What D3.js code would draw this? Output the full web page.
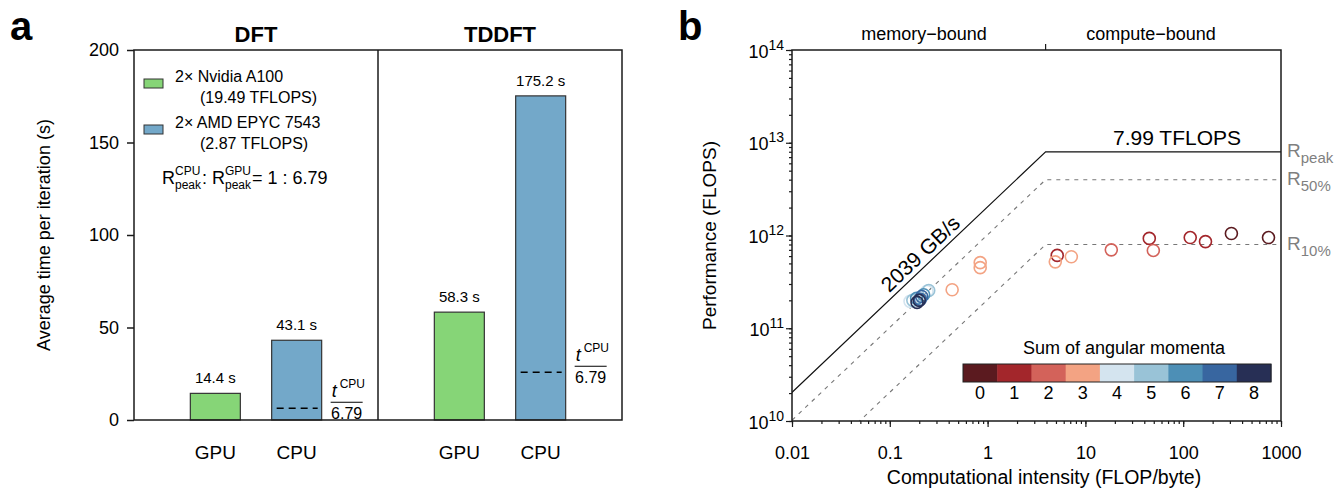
<!DOCTYPE html>
<html>
<head>
<meta charset="utf-8">
<script src="https://cdn.jsdelivr.net/npm/d3@7"></script>
<style>
  body { margin: 0; background: #fff; }
  svg text { font-family: "Liberation Sans", Arial, Helvetica, sans-serif; }
</style>
</head>
<body>
<div id="content"></div>
<script>
// ---- panel a data
const methods = ['DFT', 'TDDFT']
const devices = ['GPU', 'CPU']
const gpuTimes = [14.4, 58.3]
const cpuTimes = [43.1, 175.2]
const peakRatio = 6.79
const timeTicks = [0, 50, 100, 150, 200]
const legendItems = [
    { name: '2× Nvidia A100', spec: '(19.49 TFLOPS)', device: 'GPU' },
    { name: '2× AMD EPYC 7543', spec: '(2.87 TFLOPS)', device: 'CPU' }
]

// ---- panel b data
const intensity = [311, 745, 45, 118, 169, 5.15, 18.4, 49.5, 0.434, 0.84, 0.84, 4.92, 7.18,
    0.161, 0.24, 0.172, 0.25, 0.188, 0.222, 0.205, 0.212, 0.19, 0.2]
const performance = [1.05e12, 9.5e11, 9.3e11, 9.5e11, 8.6e11, 6.1e11, 7.0e11, 6.9e11, 2.6e11, 4.5e11, 5.1e11, 5.2e11, 5.9e11,
    1.95e11, 2.5e11, 2.0e11, 2.55e11, 2.1e11, 2.3e11, 2.05e11, 2.2e11, 1.9e11, 2.0e11]
const momentumSum = [0, 0, 1, 1, 1, 1, 2, 2, 3, 3, 3, 3, 3,
    4, 4, 5, 5, 6, 6, 7, 7, 8, 8]
const momentumLevels = [0, 1, 2, 3, 4, 5, 6, 7, 8]
const momentumColors = ['#5b1a1f', '#a3262b', '#d3625a', '#f3a383', '#d4e4ef', '#99c3d7', '#4d8fb6', '#3866a0', '#272f55']
const peakFlops = 7.99e12
const bandwidth = 2039e9
const roofFractions = [1, 0.5, 0.1]
const roofNames = ['peak', '50%', '10%']
const intensityTicks = [0.01, 0.1, 1, 10, 100, 1000]
const perfTicks = [1e10, 1e11, 1e12, 1e13, 1e14]

const svg = d3.select('#content')
    .append('svg')
    .attr('width', 1338)
    .attr('height', 490)

const ink = '#1a1a1a'

// ================= panel a =================
const aLeft = 134, aRight = 622, aTop = 50, aBottom = 420
const barWidth = 50

const yTime = d3.scaleLinear().domain([0, 200]).range([aBottom, aTop])
const xMethod = d3.scaleBand().domain(methods).range([aLeft, aRight])
const xDevice = d3.scalePoint().domain(devices).range([0, xMethod.bandwidth()]).padding(1)
const fillOf = { GPU: '#86d577', CPU: '#73a8c9' }

svg.append('text').text('a')
    .attr('x', 10).attr('y', 40)
    .attr('font-size', 40).attr('font-weight', 'bold')

const axisA = svg.append('g')
    .attr('transform', `translate(${aLeft},0)`)
    .call(d3.axisLeft(yTime).tickValues(timeTicks).tickSize(7).tickPadding(8).tickSizeOuter(0))
axisA.select('.domain').remove()
axisA.selectAll('line').attr('stroke', ink).attr('stroke-width', 1.5)
axisA.selectAll('text').attr('font-size', 18).attr('fill', '#000')

svg.append('text')
    .text('Average time per iteration (s)')
    .attr('transform', `translate(50,${(aTop + aBottom) / 2}) rotate(-90)`)
    .attr('text-anchor', 'middle')
    .attr('font-size', 18)

const bars = methods.flatMap((m, i) => [
    { method: m, device: 'GPU', value: gpuTimes[i] },
    { method: m, device: 'CPU', value: cpuTimes[i] }
])
const barX = d => xMethod(d.method) + xDevice(d.device) - barWidth / 2

svg.append('g').selectAll('rect')
    .data(bars)
    .join('rect')
    .attr('x', barX)
    .attr('y', d => yTime(d.value))
    .attr('width', barWidth)
    .attr('height', d => yTime(0) - yTime(d.value))
    .attr('fill', d => fillOf[d.device])
    .attr('stroke', '#333')
    .attr('stroke-width', 1.2)

svg.append('g').selectAll('text')
    .data(bars)
    .join('text')
    .text(d => `${d.value} s`)
    .attr('x', d => barX(d) + barWidth / 2)
    .attr('y', d => yTime(d.value) - 10)
    .attr('text-anchor', 'middle')
    .attr('font-size', 15)

svg.append('g').selectAll('text')
    .data(bars)
    .join('text')
    .text(d => d.device)
    .attr('x', d => barX(d) + barWidth / 2)
    .attr('y', 459)
    .attr('text-anchor', 'middle')
    .attr('font-size', 19)

// scaled CPU time marks
const cpuBars = bars.filter(d => d.device === 'CPU')
cpuBars.forEach(d => {
    const x0 = barX(d)
    const yd = yTime(d.value / peakRatio)
    svg.append('line')
        .attr('x1', x0 + 5).attr('x2', x0 + barWidth - 4)
        .attr('y1', yd).attr('y2', yd)
        .attr('stroke', '#000').attr('stroke-width', 1.5)
        .attr('stroke-dasharray', '7,5')
    const fx = x0 + barWidth + 9
    const fy = yd - 6
    svg.append('line')
        .attr('x1', fx).attr('x2', fx + 32)
        .attr('y1', fy).attr('y2', fy)
        .attr('stroke', '#000').attr('stroke-width', 1)
    svg.append('text').text('t')
        .attr('x', fx + 1).attr('y', fy - 5)
        .attr('font-size', 18).attr('font-style', 'italic')
    svg.append('text').text('CPU')
        .attr('x', fx + 9).attr('y', fy - 14)
        .attr('font-size', 12)
    svg.append('text').text(String(peakRatio))
        .attr('x', fx + 16).attr('y', fy + 17)
        .attr('text-anchor', 'middle')
        .attr('font-size', 16)
})

// frame
svg.append('rect')
    .attr('x', aLeft).attr('y', aTop)
    .attr('width', aRight - aLeft).attr('height', aBottom - aTop)
    .attr('fill', 'none').attr('stroke', ink).attr('stroke-width', 1.5)
svg.append('line')
    .attr('x1', xMethod('TDDFT')).attr('x2', xMethod('TDDFT'))
    .attr('y1', aTop).attr('y2', aBottom)
    .attr('stroke', ink).attr('stroke-width', 1.5)

svg.append('g').selectAll('text')
    .data(methods)
    .join('text')
    .text(d => d)
    .attr('x', d => xMethod(d) + xMethod.bandwidth() / 2)
    .attr('y', 42)
    .attr('text-anchor', 'middle')
    .attr('font-size', 22)
    .attr('font-weight', 'bold')

// legend
const legend = svg.append('g').attr('id', 'legend')
legendItems.forEach((d, i) => {
    const ly = 82 + i * 46
    legend.append('rect')
        .attr('x', 144).attr('y', ly - 3)
        .attr('width', 19).attr('height', 9)
        .attr('fill', fillOf[d.device]).attr('stroke', '#333').attr('stroke-width', 1)
    legend.append('text').text(d.name)
        .attr('x', 175).attr('y', ly).attr('font-size', 16)
    legend.append('text').text(d.spec)
        .attr('x', 200).attr('y', ly + 21).attr('font-size', 16)
})
const ratio = svg.append('g').attr('id', 'ratio')
ratio.append('text').text('R').attr('x', 162).attr('y', 184).attr('font-size', 18)
ratio.append('text').text('CPU').attr('x', 175).attr('y', 175).attr('font-size', 12)
ratio.append('text').text('peak').attr('x', 175).attr('y', 189).attr('font-size', 12)
ratio.append('text').text(':').attr('x', 202).attr('y', 184).attr('font-size', 18)
ratio.append('text').text('R').attr('x', 212).attr('y', 184).attr('font-size', 18)
ratio.append('text').text('GPU').attr('x', 225).attr('y', 175).attr('font-size', 12)
ratio.append('text').text('peak').attr('x', 225).attr('y', 189).attr('font-size', 12)
ratio.append('text').text(`= 1 : ${peakRatio}`).attr('x', 252).attr('y', 184).attr('font-size', 18)

// ================= panel b =================
const bLeft = 792, bRight = 1281, bTop = 50, bBottom = 421
const xInt = d3.scaleLog().domain([0.01, 1000]).range([bLeft, bRight])
const yPerf = d3.scaleLog().domain([1e10, 1e14]).range([bBottom, bTop])
const colorOf = d3.scaleOrdinal().domain(momentumLevels).range(momentumColors)

svg.append('text').text('b')
    .attr('x', 678).attr('y', 40)
    .attr('font-size', 40).attr('font-weight', 'bold')

// axes
const xMinor = svg.append('g')
    .attr('transform', `translate(0,${bBottom})`)
    .call(d3.axisBottom(xInt).tickValues(xInt.ticks()).tickSize(3).tickFormat('').tickSizeOuter(0))
const xMajor = svg.append('g')
    .attr('transform', `translate(0,${bBottom})`)
    .call(d3.axisBottom(xInt).tickValues(intensityTicks).tickSize(6).tickPadding(19).tickFormat(d3.format('~g')).tickSizeOuter(0))
const yMinor = svg.append('g')
    .attr('transform', `translate(${bLeft},0)`)
    .call(d3.axisLeft(yPerf).tickValues(yPerf.ticks()).tickSize(3).tickFormat('').tickSizeOuter(0))
const yMajor = svg.append('g')
    .attr('transform', `translate(${bLeft},0)`)
    .call(d3.axisLeft(yPerf).tickValues(perfTicks).tickSize(6).tickPadding(3).tickFormat('').tickSizeOuter(0))

;[xMinor, xMajor, yMinor, yMajor].forEach(g => {
    g.select('.domain').remove()
    g.selectAll('line').attr('stroke', ink).attr('stroke-width', 1.2)
})
xMajor.selectAll('text').attr('font-size', 18).attr('fill', '#000')

yMajor.selectAll('.tick').append('text')
    .attr('x', -8).attr('y', 7)
    .attr('text-anchor', 'end')
    .attr('fill', '#000')
    .each(function (d) {
        const t = d3.select(this)
        t.append('tspan').attr('font-size', 18).text('10')
        t.append('tspan').attr('font-size', 14).attr('dy', -8).text(Math.round(Math.log10(d)))
    })

svg.append('text')
    .text('Performance (FLOPS)')
    .attr('transform', `translate(716,${(bTop + bBottom) / 2}) rotate(-90)`)
    .attr('text-anchor', 'middle')
    .attr('font-size', 19)

svg.append('text')
    .text('Computational intensity (FLOP/byte)')
    .attr('x', 1044)
    .attr('y', 484)
    .attr('text-anchor', 'middle')
    .attr('font-size', 19.5)

// rooflines
svg.append('clipPath').attr('id', 'plot-clip')
    .append('rect')
    .attr('x', bLeft).attr('y', bTop)
    .attr('width', bRight - bLeft).attr('height', bBottom - bTop)

const ridge = peakFlops / bandwidth
const roofLine = d3.line().x(d => xInt(d[0])).y(d => yPerf(d[1]))
const roofs = svg.append('g').attr('clip-path', 'url(#plot-clip)')
roofFractions.forEach((f, i) => {
    const pts = [[0.001, bandwidth * 0.001 * f], [ridge, peakFlops * f], [1000, peakFlops * f]]
    roofs.append('path')
        .attr('d', roofLine(pts))
        .attr('fill', 'none')
        .attr('stroke', i === 0 ? '#111' : '#777')
        .attr('stroke-width', i === 0 ? 1.2 : 1.1)
        .attr('stroke-dasharray', i === 0 ? null : '4,5')
})

// roof labels
roofFractions.forEach((f, i) => {
    const ly = yPerf(peakFlops * f)
    const t = svg.append('text')
        .attr('x', 1287).attr('y', ly + 5)
        .attr('fill', '#7f7f7f')
    t.append('tspan').attr('font-size', 19).text('R')
    t.append('tspan').attr('font-size', 15).attr('dy', 6).text(roofNames[i])
})

svg.append('text')
    .text(`${peakFlops / 1e12} TFLOPS`)
    .attr('x', 1177)
    .attr('y', yPerf(peakFlops) - 7)
    .attr('text-anchor', 'middle')
    .attr('font-size', 21)

const bwAt = 0.25
const slopeDeg = Math.atan2(yPerf(1e11) - yPerf(1e12), xInt(1) - xInt(0.1)) * 180 / Math.PI
svg.append('text')
    .text(`${bandwidth / 1e9} GB/s`)
    .attr('transform', `translate(${xInt(bwAt)},${yPerf(bandwidth * bwAt)}) rotate(${-slopeDeg}) translate(0,-5)`)
    .attr('text-anchor', 'middle')
    .attr('font-size', 21)

// regime labels
svg.append('line')
    .attr('x1', xInt(ridge)).attr('x2', xInt(ridge))
    .attr('y1', bTop).attr('y2', bTop - 6)
    .attr('stroke', ink).attr('stroke-width', 1.2)
svg.append('text').text('memory\u2212bound')
    .attr('x', 924).attr('y', 40)
    .attr('text-anchor', 'middle').attr('font-size', 18)
svg.append('text').text('compute\u2212bound')
    .attr('x', 1151).attr('y', 40)
    .attr('text-anchor', 'middle').attr('font-size', 18)

// points
svg.append('g').selectAll('circle')
    .data(intensity.map((x, i) => ({ x: x, y: performance[i], s: momentumSum[i] })))
    .join('circle')
    .attr('cx', d => xInt(d.x))
    .attr('cy', d => yPerf(d.y))
    .attr('r', 6)
    .attr('fill', 'none')
    .attr('stroke', d => colorOf(d.s))
    .attr('stroke-width', 1.6)

// frame
svg.append('rect')
    .attr('x', bLeft).attr('y', bTop)
    .attr('width', bRight - bLeft).attr('height', bBottom - bTop)
    .attr('fill', 'none').attr('stroke', ink).attr('stroke-width', 1.5)

// colorbar
const cbLeft = 963, cbRight = 1271, cbTop = 364, cbHeight = 18
const xCb = d3.scaleBand().domain(momentumLevels).range([cbLeft, cbRight])
const cb = svg.append('g').attr('id', 'colorbar')
cb.selectAll('rect')
    .data(momentumLevels)
    .join('rect')
    .attr('x', d => xCb(d))
    .attr('y', cbTop)
    .attr('width', xCb.bandwidth() + 0.5)
    .attr('height', cbHeight)
    .attr('fill', d => colorOf(d))
cb.append('rect')
    .attr('x', cbLeft).attr('y', cbTop)
    .attr('width', cbRight - cbLeft).attr('height', cbHeight)
    .attr('fill', 'none').attr('stroke', '#222').attr('stroke-width', 1)
cb.selectAll('text.lvl')
    .data(momentumLevels)
    .join('text')
    .attr('class', 'lvl')
    .text(d => d)
    .attr('x', d => xCb(d) + xCb.bandwidth() / 2)
    .attr('y', cbTop + cbHeight + 17)
    .attr('text-anchor', 'middle')
    .attr('font-size', 18)
cb.append('text')
    .text('Sum of angular momenta')
    .attr('x', 1124)
    .attr('y', cbTop - 10)
    .attr('text-anchor', 'middle')
    .attr('font-size', 18)
</script>
</body>
</html>
